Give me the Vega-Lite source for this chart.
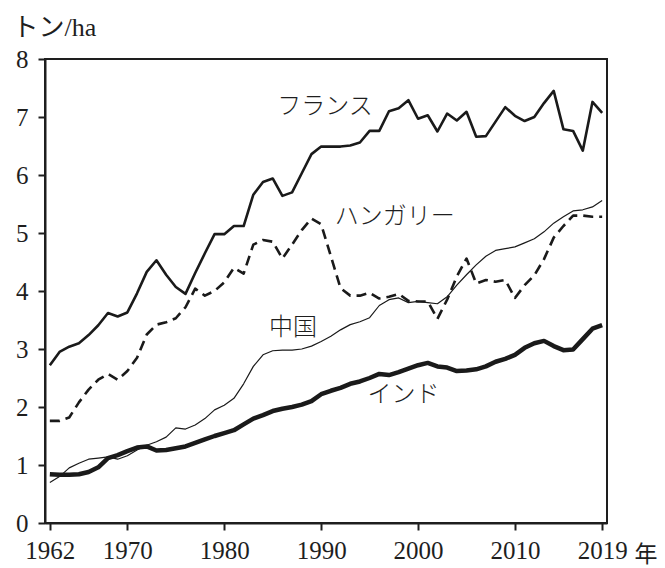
{
  "$schema": "https://vega.github.io/schema/vega-lite/v6.json",
  "width": 562,
  "height": 464,
  "autosize": {"type": "none"},
  "padding": {"left": 45, "top": 59, "right": 58, "bottom": 45},
  "background": "white",
  "config": {
    "view": {"stroke": "#1e1e1e", "strokeWidth": 2},
    "axis": {"domainColor": "#1e1e1e", "domainWidth": 2, "tickColor": "#1e1e1e", "tickWidth": 2, "labelColor": "#1e1e1e", "titleColor": "#1e1e1e", "grid": false, "labelFont": "Liberation Serif", "labelFontSize": 25}
  },
  "datasets": {
    "yields": [
      {"year": 1962, "France": 2.72, "Hungary": 1.76, "China": 0.70, "India": 0.84},
      {"year": 1963, "France": 2.95, "Hungary": 1.76, "China": 0.80, "India": 0.83},
      {"year": 1964, "France": 3.04, "Hungary": 1.82, "China": 0.95, "India": 0.83},
      {"year": 1965, "France": 3.10, "Hungary": 2.08, "China": 1.03, "India": 0.84},
      {"year": 1966, "France": 3.24, "Hungary": 2.30, "China": 1.10, "India": 0.88},
      {"year": 1967, "France": 3.41, "Hungary": 2.47, "China": 1.12, "India": 0.96},
      {"year": 1968, "France": 3.62, "Hungary": 2.57, "China": 1.14, "India": 1.12},
      {"year": 1969, "France": 3.56, "Hungary": 2.47, "China": 1.10, "India": 1.17},
      {"year": 1970, "France": 3.63, "Hungary": 2.62, "China": 1.16, "India": 1.24},
      {"year": 1971, "France": 3.96, "Hungary": 2.85, "China": 1.26, "India": 1.30},
      {"year": 1972, "France": 4.33, "Hungary": 3.25, "China": 1.34, "India": 1.32},
      {"year": 1973, "France": 4.53, "Hungary": 3.42, "China": 1.40, "India": 1.25},
      {"year": 1974, "France": 4.28, "Hungary": 3.46, "China": 1.48, "India": 1.26},
      {"year": 1975, "France": 4.07, "Hungary": 3.53, "China": 1.64, "India": 1.29},
      {"year": 1976, "France": 3.95, "Hungary": 3.72, "China": 1.62, "India": 1.32},
      {"year": 1977, "France": 4.31, "Hungary": 4.04, "China": 1.69, "India": 1.38},
      {"year": 1978, "France": 4.65, "Hungary": 3.92, "China": 1.80, "India": 1.44},
      {"year": 1979, "France": 4.98, "Hungary": 4.00, "China": 1.95, "India": 1.50},
      {"year": 1980, "France": 4.98, "Hungary": 4.15, "China": 2.03, "India": 1.55},
      {"year": 1981, "France": 5.12, "Hungary": 4.40, "China": 2.15, "India": 1.60},
      {"year": 1982, "France": 5.12, "Hungary": 4.30, "China": 2.40, "India": 1.70},
      {"year": 1983, "France": 5.66, "Hungary": 4.80, "China": 2.70, "India": 1.80},
      {"year": 1984, "France": 5.88, "Hungary": 4.88, "China": 2.90, "India": 1.86},
      {"year": 1985, "France": 5.94, "Hungary": 4.85, "China": 2.97, "India": 1.93},
      {"year": 1986, "France": 5.64, "Hungary": 4.56, "China": 2.98, "India": 1.97},
      {"year": 1987, "France": 5.70, "Hungary": 4.80, "China": 2.98, "India": 2.00},
      {"year": 1988, "France": 6.03, "Hungary": 5.05, "China": 3.00, "India": 2.04},
      {"year": 1989, "France": 6.36, "Hungary": 5.25, "China": 3.05, "India": 2.10},
      {"year": 1990, "France": 6.49, "Hungary": 5.15, "China": 3.13, "India": 2.22},
      {"year": 1991, "France": 6.49, "Hungary": 4.60, "China": 3.22, "India": 2.28},
      {"year": 1992, "France": 6.49, "Hungary": 4.05, "China": 3.33, "India": 2.33},
      {"year": 1993, "France": 6.51, "Hungary": 3.92, "China": 3.42, "India": 2.40},
      {"year": 1994, "France": 6.56, "Hungary": 3.92, "China": 3.47, "India": 2.44},
      {"year": 1995, "France": 6.76, "Hungary": 3.97, "China": 3.54, "India": 2.50},
      {"year": 1996, "France": 6.76, "Hungary": 3.87, "China": 3.75, "India": 2.57},
      {"year": 1997, "France": 7.10, "Hungary": 3.90, "China": 3.85, "India": 2.55},
      {"year": 1998, "France": 7.15, "Hungary": 3.95, "China": 3.88, "India": 2.60},
      {"year": 1999, "France": 7.29, "Hungary": 3.83, "China": 3.80, "India": 2.66},
      {"year": 2000, "France": 6.97, "Hungary": 3.82, "China": 3.82, "India": 2.72},
      {"year": 2001, "France": 7.03, "Hungary": 3.82, "China": 3.80, "India": 2.76},
      {"year": 2002, "France": 6.75, "Hungary": 3.52, "China": 3.78, "India": 2.70},
      {"year": 2003, "France": 7.06, "Hungary": 3.85, "China": 3.90, "India": 2.68},
      {"year": 2004, "France": 6.94, "Hungary": 4.25, "China": 4.10, "India": 2.62},
      {"year": 2005, "France": 7.09, "Hungary": 4.56, "China": 4.28, "India": 2.63},
      {"year": 2006, "France": 6.66, "Hungary": 4.13, "China": 4.45, "India": 2.65},
      {"year": 2007, "France": 6.67, "Hungary": 4.19, "China": 4.60, "India": 2.70},
      {"year": 2008, "France": 6.92, "Hungary": 4.16, "China": 4.70, "India": 2.78},
      {"year": 2009, "France": 7.17, "Hungary": 4.19, "China": 4.73, "India": 2.83},
      {"year": 2010, "France": 7.02, "Hungary": 3.88, "China": 4.76, "India": 2.90},
      {"year": 2011, "France": 6.93, "Hungary": 4.10, "China": 4.83, "India": 3.02},
      {"year": 2012, "France": 7.00, "Hungary": 4.27, "China": 4.90, "India": 3.10},
      {"year": 2013, "France": 7.24, "Hungary": 4.55, "China": 5.02, "India": 3.14},
      {"year": 2014, "France": 7.45, "Hungary": 4.92, "China": 5.17, "India": 3.05},
      {"year": 2015, "France": 6.79, "Hungary": 5.12, "China": 5.28, "India": 2.98},
      {"year": 2016, "France": 6.76, "Hungary": 5.30, "China": 5.38, "India": 2.99},
      {"year": 2017, "France": 6.42, "Hungary": 5.30, "China": 5.40, "India": 3.17},
      {"year": 2018, "France": 7.26, "Hungary": 5.28, "China": 5.45, "India": 3.35},
      {"year": 2019, "France": 7.07, "Hungary": 5.28, "China": 5.56, "India": 3.41}
    ],
    "labels": [
      {"name": "フランス", "year": 1990.4, "value": 7.17},
      {"name": "ハンガリー", "year": 1997.6, "value": 5.28},
      {"name": "中国", "year": 1987.1, "value": 3.36},
      {"name": "インド", "year": 1998.5, "value": 2.21}
    ]
  },
  "encoding": {
    "x": {
      "field": "year", "type": "quantitative",
      "scale": {"domain": [1961.5, 2019.5], "nice": false, "zero": false},
      "axis": {
        "values": [1962, 1970, 1980, 1990, 2000, 2010, 2019],
        "format": "d",
        "labelFont": "Liberation Serif", "labelFontSize": 25,
        "tickSize": 7, "labelPadding": 8, "labelFlush": false,
        "title": "年", "titleFont": "Noto Sans CJK JP", "titleFontSize": 23, "titleFontWeight": "normal",
        "titleAlign": "left", "titleAnchor": null, "titleBaseline": "alphabetic",
        "titleX": 589, "titleY": 38
      }
    },
    "y": {
      "field": "value", "type": "quantitative",
      "scale": {"domain": [0, 8], "nice": false},
      "axis": {
        "values": [0, 1, 2, 3, 4, 5, 6, 7, 8],
        "format": "d",
        "labelFont": "Liberation Serif", "labelFontSize": 25,
        "tickSize": 7, "labelPadding": 10,
        "title": "トン/ha", "titleFont": "Liberation Serif, Noto Sans CJK JP", "titleFontSize": 26, "titleFontWeight": "normal",
        "titleAngle": 0, "titleAlign": "left", "titleBaseline": "alphabetic",
        "titleX": -33, "titleY": -24
      }
    }
  },
  "layer": [
    {
      "data": {"name": "yields"},
      "transform": [{"fold": ["France"], "as": ["country", "value"]}],
      "mark": {"type": "line", "color": "#1a1a1a", "strokeWidth": 2.6, "strokeJoin": "round"},
      "encoding": {}
    },
    {
      "data": {"name": "yields"},
      "transform": [{"fold": ["Hungary"], "as": ["country", "value"]}],
      "mark": {"type": "line", "color": "#1a1a1a", "strokeWidth": 2.6, "strokeDash": [10, 6], "strokeJoin": "round"},
      "encoding": {}
    },
    {
      "data": {"name": "yields"},
      "transform": [{"fold": ["China"], "as": ["country", "value"]}],
      "mark": {"type": "line", "color": "#1a1a1a", "strokeWidth": 1.2, "strokeJoin": "round"},
      "encoding": {}
    },
    {
      "data": {"name": "yields"},
      "transform": [{"fold": ["India"], "as": ["country", "value"]}],
      "mark": {"type": "line", "color": "#1a1a1a", "strokeWidth": 4.5, "strokeJoin": "round"},
      "encoding": {}
    },
    {
      "data": {"name": "labels"},
      "mark": {"type": "text", "font": "Noto Sans CJK JP", "fontSize": 24, "fontWeight": 300, "color": "#1e1e1e", "align": "center", "baseline": "middle"},
      "encoding": {
        "text": {"field": "name", "type": "nominal"}
      }
    }
  ]
}
